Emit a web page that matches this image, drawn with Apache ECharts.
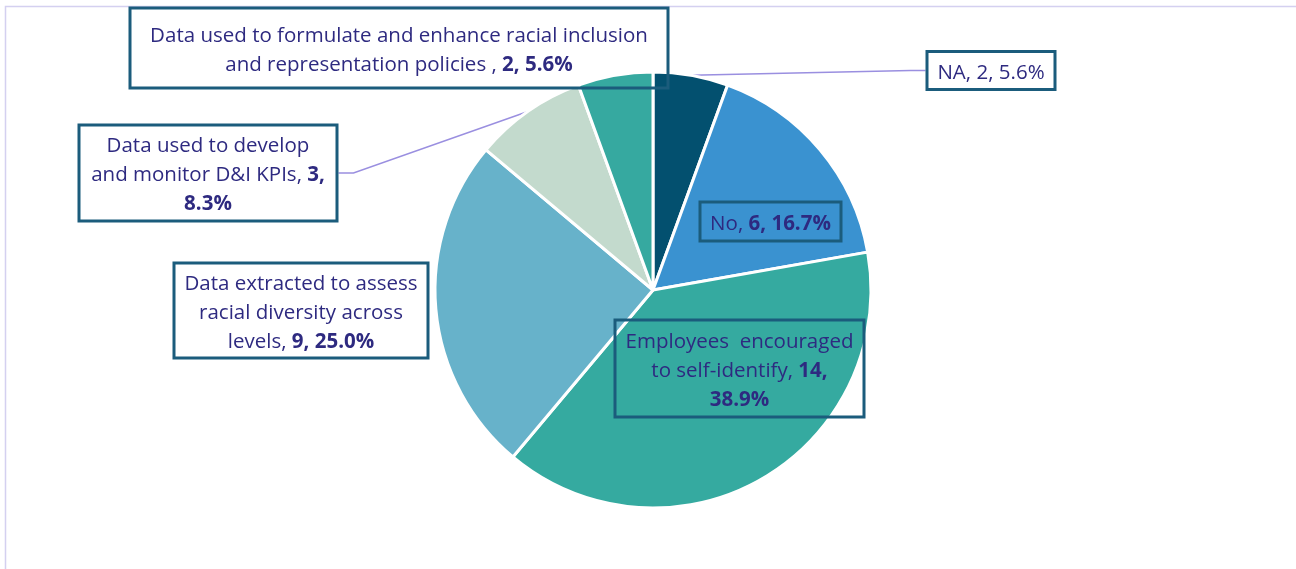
<!DOCTYPE html>
<html>
<head>
<meta charset="utf-8">
<script src="https://cdn.jsdelivr.net/npm/echarts@6/dist/echarts.min.js"></script>
<style>
  html, body { margin: 0; padding: 0; background: #fff; }
  #chart { width: 1296px; height: 569px; }
</style>
</head>
<body>
<div id="chart"></div>
<script>
// Slice names (line breaks are part of the label text) and counts, clockwise from 12 o'clock
const categories = [
  'NA',
  'No',
  'Employees  encouraged\nto self-identify',
  'Data extracted to assess\nracial diversity across\nlevels',
  'Data used to develop\nand monitor D&I KPIs',
  'Data used to formulate and enhance racial inclusion\nand representation policies '
];
const counts = [2, 6, 14, 9, 3, 2];
const sliceColors = ['#03506F', '#3A92D0', '#35AAA0', '#67B2CA', '#C3DACD', '#36A9A0'];

const total = counts.reduce((a, b) => a + b, 0);

// Label box placement: centre (x, y), outer size (w, h) and how the value part wraps
const labelBoxes = [
  { x: 991, y: 70.5, w: 128, h: 38, boldValue: false, breakBeforePct: false, line: true },
  { x: 770.5, y: 221.5, w: 141, h: 39, boldValue: true, breakBeforePct: false, line: false },
  { x: 739.5, y: 368.5, w: 249, h: 97, boldValue: true, breakBeforePct: true, line: false },
  { x: 301, y: 310.5, w: 254, h: 95, boldValue: true, breakBeforePct: false, line: false },
  { x: 208, y: 173, w: 258, h: 96, boldValue: true, breakBeforePct: true, line: true },
  { x: 399, y: 48, w: 538, h: 80, boldValue: true, breakBeforePct: false, line: false }
];

const textColor = '#2E2A80';
const boxColor = '#1B5C7C';
const font = 'Open Sans';
const fontSize = 20.5;
const lineH = 29;
const padH = 7;
const textDrop = 2.5; // nudges the text block slightly below the box's middle

const chart = echarts.init(document.getElementById('chart'), null, { renderer: 'canvas' });

const seriesData = categories.map((name, i) => {
  const b = labelBoxes[i];
  const lines = name.split('\n').length + (b.breakBeforePct ? 1 : 0);
  const padV = Math.max(0, (b.h - lines * lineH) / 2);
  return {
    name: name,
    value: counts[i],
    itemStyle: { color: sliceColors[i] },
    labelLine: { show: b.line },
    label: {
      width: b.w - 2 * padH,
      padding: [padV + textDrop, padH, Math.max(0, padV - textDrop), padH]
    }
  };
});

chart.setOption({
  animation: false,
  backgroundColor: '#ffffff',
  graphic: [{
    type: 'rect',
    shape: { x: 5.5, y: 6.5, width: 1400, height: 700 },
    style: { fill: 'none', stroke: '#D4D0F0', lineWidth: 1.5 },
    z: -10,
    silent: true
  }],
  series: [{
    type: 'pie',
    center: [653, 290],
    radius: 218,
    startAngle: 90,
    clockwise: true,
    avoidLabelOverlap: false,
    itemStyle: { borderColor: '#ffffff', borderWidth: 3 },
    data: seriesData,
    label: {
      show: true,
      position: 'outside',
      align: 'center',
      color: textColor,
      fontFamily: font,
      fontSize: fontSize,
      lineHeight: lineH,
      borderColor: boxColor,
      borderWidth: 1.5,
      backgroundColor: 'transparent',
      formatter: (p) => {
        const b = labelBoxes[p.dataIndex];
        const pct = (p.value / total * 100).toFixed(1) + '%';
        const style = b.boldValue ? 'b' : 't';
        const nameLines = p.name.split('\n');
        const head = nameLines.map((ln, k) =>
          k === nameLines.length - 1 ? '{t|' + ln + ', }' : '{t|' + ln + '}'
        ).join('\n');
        if (b.breakBeforePct) {
          return head + '{' + style + '|' + p.value + ',}\n{' + style + '|' + pct + '}';
        }
        return head + '{' + style + '|' + p.value + ', ' + pct + '}';
      },
      rich: {
        t: { color: textColor, fontFamily: font, fontSize: fontSize, lineHeight: lineH },
        b: { color: textColor, fontFamily: font, fontSize: fontSize, lineHeight: lineH, fontWeight: 'bold' }
      }
    },
    labelLine: {
      show: false,
      length: 20,
      length2: 15,
      smooth: false,
      lineStyle: { color: '#9A8FE0', width: 1.5 }
    },
    labelLayout: (p) => {
      const b = labelBoxes[p.dataIndex];
      return { x: b.x, y: b.y, align: 'center', verticalAlign: 'middle' };
    }
  }]
});
</script>
</body>
</html>
